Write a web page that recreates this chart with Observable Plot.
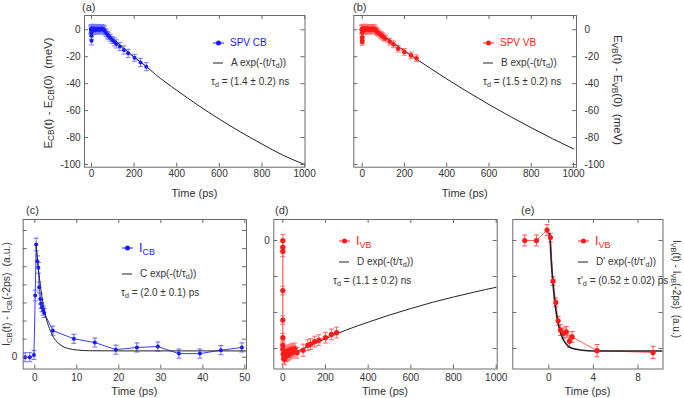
<!DOCTYPE html>
<html><head><meta charset="utf-8">
<script src="https://cdn.jsdelivr.net/npm/d3@7"></script>
<script src="https://cdn.jsdelivr.net/npm/@observablehq/plot@0.6"></script>
<style>
body{margin:0;background:#fff;}
#c{position:relative;width:684px;height:398px;overflow:hidden;font-family:"Liberation Sans",Arial,sans-serif;color:#222;background:#fff;}
.t{position:absolute;white-space:pre;line-height:1;}
.s{font-size:0.72em;position:relative;top:0.3em;}
</style></head><body><div id="c"></div>
<script>
// ---------- (a) SPV CB ----------
const cbTime  = [-4,-2,-1,0,0,1,2,4,6,8,10,13,16,19,22,25,28,32,36,40,44,48,52,56,60,64,70,76,81,88,97,107,117,133,152,172,202,230,257];
const cbShift = [0.5,-0.5,-2,-8.2,-4.5,0.8,0,1,0.5,-0.5,1,0.2,0.8,-0.3,0.6,0,1,0.3,-0.2,0.7,0.2,0.9,0,0.5,-0.3,-1.4,-2.6,-3.8,-4.8,-6,-7.6,-9,-10.5,-12.5,-15,-17.5,-20.8,-24.2,-27.4];
const cbErr   = [3,3,3,3,2.5,3,3,3,3,3,3,3,3,3,3,3,3,3,3,3,3,3,3,3,3,2.5,2.5,2.5,2.5,2.5,2.5,3,3,3,3,3,2.5,3,3];
const fitATime  = [55,65,100,150,200,257,300,400,500,600,700,800,900,1000];
const fitAShift = [0,-1.5,-6.5,-13.5,-20.2,-27.2,-33.1,-44.9,-56,-66.3,-75.9,-84.8,-93.2,-100];
// ---------- (b) SPV VB ----------
const vbTime  = [-3,-1,0,0,0,0,1,3,5,7,10,13,16,19,22,25,28,32,36,40,44,48,52,56,60,64,68,72,80,88,94,102,110,130,148,170,199,231,257];
const vbShift = [0,0.5,-2,-5.5,-7.8,-9,0.5,1,0,1,0.5,-0.3,1,0.4,0,1,0.2,0.8,-0.2,0.6,0.2,1,0.4,0,0.5,-0.4,-1,-1.8,-2.8,-3.8,-4.5,-5.5,-6.5,-8.8,-10.8,-14,-16.4,-19,-21.2];
const vbErr   = [3,3,3,2.5,2.5,2.5,3,3,3,3,3,3,3,3,3,3,3,3,3,3,3,3,3,3,3,2.5,2.5,2.5,2.5,2.5,2.5,2.5,2.5,2.5,2.5,2.5,2.5,2.5,2.5];
const fitBTime  = [60,100,150,200,257,300,400,500,600,700,800,900,1000];
const fitBShift = [0,-4.4,-10.1,-15.6,-21.8,-26.3,-36.5,-46.2,-55.5,-64.3,-72.7,-80.8,-88.4];
// ---------- (c) I_CB ----------
const cTime = [-2.3,-1.2,-0.2,0.1,0.33,0.6,0.85,1.05,1.3,1.5,1.7,2.0,2.25,4.3,9.3,14.3,19.3,24.3,29.3,34.3,39.3,44.3,49.3];
const cInt  = [0,0,0.13,3.41,6.23,5.3,4.94,3.87,3.22,2.95,2.76,2.58,2.45,1.47,1.02,0.81,0.42,0.54,0.59,0.2,0.2,0.39,0.54];
const cErr  = [0.25,0.25,0.25,0.3,0.35,0.3,0.3,0.28,0.28,0.25,0.25,0.25,0.25,0.25,0.25,0.25,0.25,0.25,0.25,0.25,0.25,0.25,0.25];
const fitCTime = [0.3,0.6,1,1.5,2,2.5,3,3.5,4,5,6,7,8,10,13,20,50.4];
const fitCInt  = [6.2,5.5,4.6,3.66,2.93,2.36,1.91,1.59,1.3,0.92,0.7,0.56,0.48,0.4,0.36,0.35,0.35];
// ---------- (d) I_VB long range ----------
const dTime = [0,0,0,0,0,0,0,0,2,4,6,8,10,13,16,19,22,25,28,32,36,40,44,48,52,56,67,95,117,130,149,169,200,228,252];
const dInt  = [0,-0.19,-0.3,-1.39,-2.21,-2.7,-2.91,-3.02,-3.15,-3.28,-3.2,-3.3,-3.15,-3.22,-3.1,-3.2,-3.08,-3.18,-3.05,-3.15,-3.1,-3.02,-3.12,-3.05,-3.08,-3.0,-3.12,-3.05,-2.91,-2.88,-2.81,-2.77,-2.70,-2.61,-2.56];
const dErr  = [0.17,0.15,0.15,0.12,0.12,0.12,0.12,0.15,0.15,0.15,0.15,0.15,0.15,0.15,0.15,0.15,0.15,0.15,0.15,0.15,0.15,0.15,0.15,0.15,0.15,0.15,0.15,0.17,0.15,0.15,0.15,0.15,0.15,0.15,0.15];
const fitDTime = [60,100,150,200,300,400,500,600,700,800,900,1000];
const fitDInt  = [-3.1,-2.99,-2.86,-2.73,-2.48,-2.27,-2.07,-1.89,-1.72,-1.57,-1.43,-1.3];
// ---------- (e) I_VB short range ----------
const eTime = [-2.15,-1.1,-0.15,0.15,0.39,0.63,0.84,1.05,1.35,1.58,1.85,2.1,4.33,9.35];
const eInt  = [0,0,0.29,0.08,-1.13,-1.72,-2.23,-2.49,-2.58,-2.54,-2.8,-2.68,-3.06,-3.11];
const eErr  = [0.15,0.15,0.15,0.12,0.12,0.12,0.12,0.15,0.15,0.15,0.17,0.15,0.17,0.17];
const fitETime = [0.02,0.1,0.2,0.3,0.4,0.5,0.6,0.8,1.0,1.3,1.6,2,3,4,10.24];
const fitEInt  = [0.2,0.15,-0.45,-0.9,-1.27,-1.58,-1.85,-2.24,-2.5,-2.75,-2.89,-2.99,-3.05,-3.07,-3.07];
// ---------- ticks ----------
const longTicks = [0,200,400,600,800,1000];
const meVTicks  = [0,-20,-40,-60,-80,-100];
const cXTicks   = [0,10,20,30,40,50];
const cYTicks   = [0,1,2,3,4,5,6,7];
const vbYTicks  = [0,-1,-2,-3];
const eXTicks   = [0,4,8];

const BLUE="#1a1aff", RED="#ff1a1a", FRAME="#6b6b6b", TXT="#333";
const cap = {draw(ctx,size){const r=Math.sqrt(size/Math.PI);ctx.moveTo(-r,0);ctx.lineTo(r,0);}};

const panels = [
  {frame:[84,15,304.5,166.7], xd:[-33,1002], yd:[-102,10.6], t:cbTime, v:cbShift, e:cbErr, ft:fitATime, fv:fitAShift,
   xt:longTicks, yt:meVTicks, xl:longTicks, yl:meVTicks, yAnchor:"left", xpad:3, ypad:4,
   color:BLUE, err:"#7a7aff", line:"#5555ff", lw:0.7, r:2, fitW:1},
  {frame:[353.3,15,576,166.7], xd:[-39.8,1014], yd:[-102,10.6], t:vbTime, v:vbShift, e:vbErr, ft:fitBTime, fv:fitBShift,
   xt:longTicks, yt:meVTicks, xl:longTicks, yl:meVTicks, yAnchor:"right", xpad:3, ypad:8,
   color:RED, err:"#ff7070", line:"#ff5050", lw:0.7, r:2.3, fitW:1},
  {frame:[22.7,219,246,368.5], xd:[-2.76,50.4], yd:[-0.65,7.61], t:cTime, v:cInt, e:cErr, ft:fitCTime, fv:fitCInt,
   xt:cXTicks, yt:cYTicks, xl:cXTicks, yl:[0], yAnchor:"left", xpad:5, ypad:6,
   color:BLUE, err:"#6a6aff", line:"#3b3bff", lw:1, r:2, fitW:1},
  {frame:[273.3,219,496.7,368.5], xd:[-42.2,1004.7], yd:[-3.57,0.583], t:dTime, v:dInt, e:dErr, ft:fitDTime, fv:fitDInt,
   xt:longTicks, yt:vbYTicks, xl:longTicks, yl:[0], yAnchor:"left", xpad:5, ypad:4,
   color:RED, err:"#ff6a6a", line:"#ff3a3a", lw:1, r:2.6, fitW:1},
  {frame:[512.3,219,662.5,368.5], xd:[-3.22,10.24], yd:[-3.57,0.583], t:eTime, v:eInt, e:eErr, ft:fitETime, fv:fitEInt,
   xt:eXTicks, yt:vbYTicks, xl:eXTicks, yl:[], yAnchor:"left", xpad:5, ypad:4,
   color:RED, err:"#ff5c5c", line:"#ff6060", lw:1, r:2.6, fitW:1.6}
];

const root = document.getElementById("c");

for (const p of panels) {
  const [fl,ft,fr,fb] = p.frame;
  const L=Math.floor(fl)-30, T=Math.floor(ft)-20;
  const W=Math.ceil(fr)+30-L, H=Math.ceil(fb)+22-T;
  const mL=fl-L, mT=ft-T, mR=W-(fr-L), mB=H-(fb-T);
  const fw=fr-fl, fh=fb-ft;
  const rows = p.t.map((t,i)=>({t, v:p.v[i], lo:p.v[i]-p.e[i], hi:p.v[i]+p.e[i]}));
  const fit = p.ft.map((t,i)=>({t, v:p.fv[i]}));
  const marks = [
    Plot.line(rows,{x:"t",y:"v",stroke:p.line,strokeWidth:p.lw,clip:true}),
    Plot.ruleX(rows,{x:"t",y1:"lo",y2:"hi",stroke:p.err,strokeWidth:1,clip:true}),
    Plot.dot(rows,{x:"t",y:"lo",symbol:cap,r:2.5,stroke:p.err,fill:"none",strokeWidth:1,clip:true}),
    Plot.dot(rows,{x:"t",y:"hi",symbol:cap,r:2.5,stroke:p.err,fill:"none",strokeWidth:1,clip:true}),
    Plot.line(fit,{x:"t",y:"v",stroke:"#222",strokeWidth:p.fitW,curve:"monotone-x",clip:true}),
    Plot.dot(rows,{x:"t",y:"v",r:p.r,fill:p.color,clip:true}),
    Plot.frame({stroke:FRAME}),
    Plot.tickX(p.xt,{x:d=>d,insetTop:fh-4,stroke:FRAME}),
    Plot.tickX(p.xt,{x:d=>d,insetBottom:fh-4,stroke:FRAME}),
    Plot.tickY(p.yt,{y:d=>d,insetRight:fw-4,stroke:FRAME}),
    Plot.tickY(p.yt,{y:d=>d,insetLeft:fw-4,stroke:FRAME}),
    Plot.axisX(p.xl,{tickSize:0,tickPadding:p.xpad,tickFormat:d=>String(d),label:null,color:TXT})
  ];
  if (p.yl.length) marks.push(Plot.axisY(p.yl,{anchor:p.yAnchor,tickSize:0,tickPadding:p.ypad,tickFormat:d=>String(d),label:null,color:TXT}));
  const svg = Plot.plot({
    width:W, height:H, marginLeft:mL, marginRight:mR, marginTop:mT, marginBottom:mB,
    x:{domain:p.xd, axis:null}, y:{domain:p.yd, axis:null},
    style:{background:"transparent", fontFamily:"'Liberation Sans', Arial, sans-serif", fontSize:"10px", color:TXT, overflow:"visible"},
    marks
  });
  svg.style.position="absolute"; svg.style.left=L+"px"; svg.style.top=T+"px"; svg.style.maxWidth="none";
  root.appendChild(svg);
}

// ---------- text overlays ----------
const S = s => s.replace(/_\{([^}]*)\}/g,'<span class="s">$1</span>');
function txt(x,y,s,{size=10,color=TXT,anchor="start",rot=0}={}) {
  const d=document.createElement("div"); d.className="t";
  d.style.left=x+"px"; d.style.top=y+"px"; d.style.fontSize=size+"px"; d.style.color=color;
  d.style.transform = rot ? `translate(-50%,-50%) rotate(${rot}deg)` : `translate(${anchor==="middle"?"-50%":"0"},-50%)`;
  d.innerHTML=S(s); root.appendChild(d);
}
const NS="http://www.w3.org/2000/svg";
const ov=document.createElementNS(NS,"svg");
ov.setAttribute("width",684); ov.setAttribute("height",398);
ov.style.position="absolute"; ov.style.left="0"; ov.style.top="0";
root.appendChild(ov);
function seg(x1,x2,y,color,w){const l=document.createElementNS(NS,"line");l.setAttribute("x1",x1);l.setAttribute("x2",x2);l.setAttribute("y1",y);l.setAttribute("y2",y);l.setAttribute("stroke",color);l.setAttribute("stroke-width",w);ov.appendChild(l);}
function dotS(x,y,r,color){const c=document.createElementNS(NS,"circle");c.setAttribute("cx",x);c.setAttribute("cy",y);c.setAttribute("r",r);c.setAttribute("fill",color);ov.appendChild(c);}

const legends = [
  {x:213, y1:43, y2:63, y3:82, name:"SPV CB", nsize:10, color:BLUE, fit:"A exp(-(t/τ_{d}))", tau:"τ_{d} = (1.4 ± 0.2) ns", tx:-2},
  {x:483, y1:43, y2:63, y3:82, name:"SPV VB", nsize:10, color:RED, fit:"B exp(-(t/τ_{d}))", tau:"τ_{d} = (1.5 ± 0.2) ns", tx:0},
  {x:122, y1:248, y2:274, y3:293, name:"I_{CB}", nsize:12.5, color:BLUE, fit:"C exp(-(t/τ_{d}))", tau:"τ_{d} = (2.0 ± 0.1) ps", tx:-1},
  {x:339, y1:241, y2:262, y3:281, name:"I_{VB}", nsize:12.5, color:RED, fit:"D exp(-(t/τ_{d}))", tau:"τ_{d} = (1.1 ± 0.2) ns", tx:-6},
  {x:578, y1:241, y2:262, y3:281, name:"I_{VB}", nsize:12.5, color:RED, fit:"D' exp(-(t/τ'_{d}))", tau:"τ'_{d} = (0.52 ± 0.02) ps", tx:-1}
];
for (const g of legends) {
  seg(g.x, g.x+11, g.y1, g.color, 1); dotS(g.x+5.5, g.y1, 2.5, g.color);
  txt(g.x+17, g.y1, g.name, {size:g.nsize, color:g.color});
  seg(g.x, g.x+10, g.y2, "#222", 1);
  txt(g.x+18, g.y2, g.fit, {size:10});
  txt(g.x+g.tx, g.y3, g.tau, {size:10});
}

// panel labels
txt(82,7,"(a)",{size:11}); txt(353,7,"(b)",{size:11});
txt(26,210,"(c)",{size:11}); txt(275,210,"(d)",{size:11}); txt(521,210,"(e)",{size:11});
// x titles
for (const [cx,cy] of [[194.5,193],[464.7,193],[134.4,391],[385,391],[587.5,391]]) txt(cx,cy,"Time (ps)",{size:11,anchor:"middle"});
// y titles
txt(49,93,"E_{CB}(t) - E_{CB}(0)  (meV)",{size:11.5,rot:-90});
txt(617,90,"E_{VB}(t) - E_{VB}(0)  (meV)",{size:11.5,rot:90});
txt(6,294,"I_{CB}(t) - I_{CB}(-2ps)  (a.u.)",{size:10.5,rot:-90});
txt(676,289,"I_{VB}(t) - I_{VB}(-2ps)  (a.u.)",{size:10,rot:90});
</script></body></html>
